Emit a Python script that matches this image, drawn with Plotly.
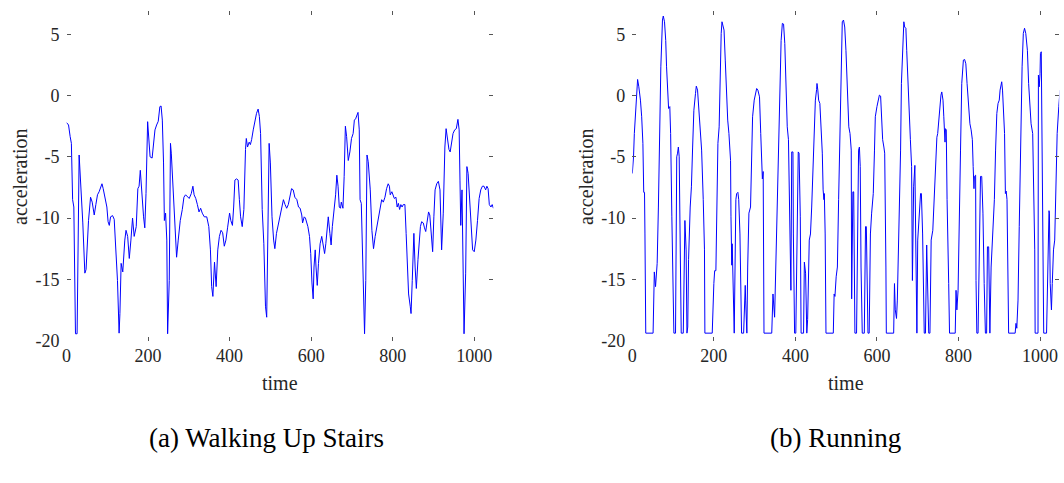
import plotly.graph_objects as go

# ---------------- data ----------------
walk_time = [0, 5, 9, 12, 15, 18, 22, 26, 31, 35, 40, 45, 48, 54, 59, 63, 68, 72, 76, 80,
             83, 87, 90, 95, 99, 102, 105, 108, 113, 117, 121, 125, 129, 131, 134, 138, 143, 146, 150, 154,
             158, 162, 166, 171, 175, 178, 181, 184, 189, 192, 195, 199, 202, 205, 210, 213, 217, 221, 225, 229,
             232, 235, 238, 240, 243, 246, 248, 252, 255, 257, 261, 266, 270, 274, 279, 284, 288, 292, 297, 301,
             306, 310, 313, 317, 321, 325, 329, 333, 338, 344, 349, 353, 356, 359, 363, 367, 371, 375, 379, 383,
             387, 391, 395, 400, 403, 407, 410, 413, 417, 421, 424, 427, 431, 435, 439, 441, 444, 448, 451, 454,
             458, 462, 466, 470, 473, 476, 480, 484, 488, 491, 493, 497, 500, 504, 508, 511, 515, 520, 524, 528,
             532, 536, 540, 544, 548, 552, 556, 560, 565, 569, 573, 577, 579, 583, 586, 589, 592, 596, 599, 602,
             605, 607, 610, 612, 615, 618, 622, 626, 629, 633, 636, 639, 642, 646, 649, 652, 656, 660, 663, 666,
             669, 672, 674, 678, 681, 684, 687, 691, 695, 699, 703, 706, 709, 713, 715, 718, 720, 723, 726, 728,
             731, 734, 737, 740, 745, 749, 753, 757, 761, 765, 769, 773, 777, 781, 785, 789, 792, 794, 798, 801,
             804, 808, 811, 814, 817, 820, 823, 826, 830, 833, 836, 839, 843, 845, 848, 852, 855, 858, 862, 865,
             868, 871, 875, 878, 881, 884, 888, 891, 894, 898, 901, 904, 908, 912, 916, 920, 924, 928, 931, 934,
             938, 941, 944, 948, 952, 956, 960, 963, 965, 967, 970, 972, 975, 979, 982, 985, 988, 992, 996, 1000,
             1004, 1008, 1012, 1016, 1020, 1024, 1028, 1031, 1034, 1037, 1041, 1044, 1047]
walk_acc = [-2.2, -2.4, -3.35, -3.9, -8.5, -9.1, -19.45, -19.45, -4.85, -6.9, -10.4, -14.5, -14.2, -10.2, -8.3, -8.7, -9.75, -8.9, -8.1, -7.85,
            -7.6, -7.2, -7.6, -8.4, -9.1, -10.3, -10.6, -9.9, -9.8, -10.1, -12.3, -15.1, -19.4, -17.8, -13.7, -14.4, -11.8, -11.0, -11.5, -13.3,
            -11.8, -10.0, -11.5, -10.7, -7.6, -7.4, -6.1, -7.7, -9.9, -10.8, -8.0, -2.13, -3.5, -5.0, -5.1, -4.2, -2.8, -2.4, -2.1, -0.9,
            -0.85, -2.0, -5.5, -10.2, -9.6, -11.8, -19.45, -15.1, -3.9, -4.7, -7.7, -11.5, -13.2, -11.8, -10.2, -9.3, -8.3, -8.1, -8.3, -8.4,
            -8.0, -7.4, -8.1, -8.4, -8.9, -9.5, -9.2, -9.6, -9.9, -9.9, -10.7, -12.6, -15.6, -16.4, -13.6, -15.6, -12.6, -11.5, -11.0, -11.2,
            -12.3, -11.8, -10.8, -9.6, -10.2, -10.6, -9.1, -6.9, -6.8, -6.9, -8.5, -9.9, -10.7, -9.3, -4.4, -3.5, -4.2, -3.8, -4.0, -3.6,
            -2.8, -2.0, -1.45, -1.1, -1.7, -3.1, -9.3, -12.1, -17.2, -18.1, -14.0, -3.9, -5.5, -9.9, -11.8, -12.5, -11.25, -10.4, -9.9, -9.2,
            -8.5, -8.9, -9.2, -8.9, -8.2, -7.6, -7.7, -8.3, -8.5, -9.1, -9.2, -9.75, -10.4, -9.9, -10.0, -10.4, -10.7, -11.5, -12.9, -15.3,
            -16.6, -14.0, -12.6, -14.0, -15.5, -13.7, -12.1, -11.5, -12.1, -12.9, -12.1, -10.7, -9.9, -11.25, -12.2, -10.7, -9.6, -8.1, -6.5, -7.4,
            -9.1, -9.2, -8.7, -9.2, -6.6, -2.5, -3.35, -5.3, -4.6, -3.5, -3.1, -2.0, -1.9, -1.45, -1.37, -2.8, -8.5, -8.8, -13.7, -17.2,
            -19.45, -15.1, -4.85, -5.4, -7.7, -11.0, -12.5, -11.5, -10.7, -9.9, -9.2, -8.5, -8.7, -8.3, -7.6, -7.2, -7.4, -8.1, -7.85, -8.1,
            -8.4, -8.3, -9.1, -8.8, -9.3, -8.9, -9.1, -8.9, -8.9, -11.25, -14.0, -16.2, -17.2, -17.8, -15.1, -11.25, -14.0, -15.75, -13.4, -11.5,
            -10.7, -10.3, -10.4, -10.8, -11.1, -10.4, -9.5, -9.75, -11.25, -12.75, -9.9, -7.7, -7.2, -7.0, -7.7, -12.6, -9.6, -4.2, -2.7, -3.6,
            -4.4, -4.6, -3.8, -3.1, -2.8, -2.7, -1.94, -2.8, -6.9, -10.6, -7.7, -13.7, -19.45, -14.5, -5.8, -6.35, -8.3, -10.7, -12.6, -12.75,
            -11.8, -10.2, -8.4, -7.7, -7.4, -7.4, -7.7, -7.4, -7.6, -8.9, -9.1, -8.9, -9.2]

run_time = [0, 3, 5, 8, 12, 13, 16, 20, 23, 26, 28, 30, 31, 33, 51, 54, 57, 61, 64, 67,
            70, 74, 76, 79, 82, 84, 88, 89, 92, 94, 97, 100, 102, 106, 109, 111, 113, 115, 117, 120,
            125, 128, 129, 132, 134, 136, 138, 142, 145, 148, 151, 155, 157, 160, 163, 166, 170, 174, 177, 178,
            196, 200, 202, 205, 208, 210, 213, 215, 218, 220, 223, 225, 228, 231, 234, 237, 241, 242, 244, 245,
            248, 250, 254, 256, 259, 261, 264, 266, 268, 273, 277, 278, 281, 283, 286, 290, 293, 295, 299, 302,
            305, 308, 312, 315, 317, 319, 321, 323, 342, 345, 349, 352, 355, 358, 362, 365, 368, 371, 374, 377,
            380, 383, 385, 387, 389, 391, 394, 395, 398, 401, 404, 407, 409, 412, 414, 420, 422, 425, 428, 430,
            434, 437, 440, 443, 447, 449, 452, 453, 455, 457, 460, 462, 466, 468, 470, 471, 473, 475, 493, 495,
            497, 500, 503, 506, 510, 513, 515, 518, 521, 524, 528, 531, 534, 537, 538, 541, 543, 546, 550, 553,
            555, 557, 559, 561, 564, 569, 572, 574, 576, 578, 581, 584, 587, 591, 594, 596, 600, 603, 606, 609,
            611, 614, 617, 619, 622, 623, 641, 643, 645, 648, 650, 653, 655, 658, 660, 664, 666, 668, 671, 673,
            677, 679, 682, 685, 687, 690, 693, 695, 698, 700, 704, 707, 709, 712, 716, 719, 722, 724, 727, 730,
            733, 737, 741, 745, 747, 749, 753, 757, 759, 762, 764, 767, 768, 770, 772, 773, 776, 778, 792, 794,
            796, 799, 802, 805, 808, 812, 815, 818, 821, 825, 828, 831, 834, 836, 838, 839, 842, 843, 845, 848,
            851, 854, 857, 860, 863, 866, 869, 871, 874, 877, 880, 884, 888, 891, 894, 897, 900, 902, 906, 908,
            911, 913, 915, 917, 919, 921, 923, 939, 941, 943, 946, 949, 952, 956, 959, 962, 965, 969, 972, 975,
            978, 982, 984, 987, 988, 995, 996, 998, 1000, 1001, 1003, 1005, 1007, 1009, 1016, 1019, 1022, 1023, 1025, 1028,
            1030, 1033, 1036, 1039, 1042, 1046, 1049]
run_acc = [-6.36, -5.0, -3.1, -1.2, 0.72, 1.32, 0.72, -0.37, -1.73, -3.9, -7.9, -7.9, -11.3, -19.4, -19.4, -14.4, -15.6, -13.7, -9.1, -3.6,
           2.35, 6.17, 6.5, 6.03, 4.5, 2.35, -0.37, -1.05, -0.9, -3.1, -9.9, -15.35, -19.4, -19.4, -5.0, -4.7, -4.2, -5.0, -12.6, -19.4,
           -19.4, -11.3, -10.2, -12.6, -19.4, -18.9, -13.4, -9.1, -7.45, -4.2, -1.2, 0.17, 0.77, 0.45, -0.9, -2.3, -4.45, -8.5, -12.6, -19.4,
           -19.4, -15.35, -14.3, -14.3, -8.5, -3.9, -2.55, 1.54, 5.08, 6.03, 5.6, 5.35, 2.9, 0.17, -2.0, -3.1, -5.3, -9.9, -13.85, -12.1,
           -15.35, -19.4, -8.5, -8.0, -7.9, -8.5, -11.3, -14.5, -19.4, -19.4, -15.5, -16.7, -19.4, -14.0, -9.6, -9.1, -5.8, -1.73, -0.37, 0.31,
           0.58, 0.45, -0.1, -3.1, -6.2, -6.8, -6.2, -19.4, -19.4, -16.2, -18.1, -14.0, -9.9, -4.7, -0.37, 4.5, 5.9, 5.84, 4.26, 1.0,
           -2.55, -3.6, -8.0, -11.3, -15.9, -4.6, -4.6, -11.3, -19.4, -19.4, -11.3, -4.6, -4.7, -9.9, -19.4, -19.4, -13.6, -14.5, -19.4, -18.3,
           -11.8, -11.3, -9.1, -5.8, -2.0, -0.37, 0.5, 0.99, 0.45, -0.37, -0.64, -2.0, -4.7, -7.7, -8.5, -8.0, -11.3, -19.4, -19.4, -16.2,
           -16.4, -14.8, -14.0, -8.5, -1.73, 2.9, 6.03, 6.17, 5.6, 3.7, 0.72, -2.55, -3.1, -4.45, -16.6, -7.86, -7.86, -19.4, -19.4, -11.3,
           -4.45, -4.2, -5.8, -14.0, -19.4, -19.4, -10.7, -10.7, -15.35, -19.4, -19.4, -11.3, -9.6, -8.0, -4.45, -1.73, -0.9, -0.37, 0.04, -0.04,
           -1.2, -3.6, -4.2, -4.7, -14.0, -19.4, -19.4, -15.35, -17.5, -18.2, -16.7, -12.9, -8.5, -4.45, 1.0, 5.6, 6.03, 5.6, 5.5, 3.7,
           0.17, -2.55, -3.6, -5.8, -15.1, -7.45, -5.7, -11.3, -19.4, -11.8, -9.5, -8.0, -8.0, -11.3, -19.4, -19.4, -12.2, -15.0, -19.4, -19.4,
           -11.8, -11.0, -7.7, -4.7, -3.4, -3.1, -1.2, 0.04, 0.3, -0.37, -1.73, -3.8, -2.7, -2.8, -8.5, -11.3, -15.35, -19.4, -19.4, -15.9,
           -17.5, -15.9, -11.3, -4.45, 1.0, 2.9, 2.95, 2.6, 1.0, -1.46, -2.3, -2.8, -3.6, -5.8, -7.6, -6.6, -6.5, -15.1, -19.4, -19.4,
           -11.3, -6.6, -6.6, -9.6, -15.35, -19.4, -19.4, -12.35, -12.35, -19.4, -14.0, -10.7, -8.5, -4.45, -1.46, -0.64, -0.37, 0.45, 1.13, 0.45,
           -1.2, -3.1, -8.0, -7.8, -8.5, -14.0, -19.4, -19.4, -18.6, -19.0, -16.7, -10.7, -3.1, 2.35, 5.08, 5.5, 5.08, 3.7, 1.0, -1.2,
           -2.3, -3.1, -7.2, -12.6, -19.4, -19.4, 1.67, 0.72, 1.8, 3.44, 3.58, -3.1, -11.3, -19.4, -19.4, -14.0, -9.4, -9.6, -15.35, -17.5,
           -15.35, -12.6, -11.8, -7.2, -3.1, -0.9, 0.45]

x_tickvals = [0, 200, 400, 600, 800, 1000]
x_ticktext = ["0", "200", "400", "600", "800", "1000"]
y_tickvals = [-20, -15, -10, -5, 0, 5]
y_ticktext = ["-20", "-15", "-10", "-5", "0", "5"]

captions = ["(a) Walking Up Stairs", "(b) Running"]
x_title = "time"
y_title = "acceleration"

# ---------------- layout helpers ----------------
W, H = 1064, 483
FONT = "Liberation Serif"
TXT = "#262626"


def px(x):
    return x / W


def py(y):
    return 1 - y / H


x_range = [0, 1047]
y_range = [-20, 6.95]

left_dom = [px(66.5), px(493.4)]
right_dom = [px(632.3), px(1059.2)]
y_dom = [py(340.5), py(10.5)]

common = dict(showline=False, zeroline=False, showgrid=False, automargin=False,
              ticks="inside", ticklen=4, tickwidth=1, tickcolor="#555555",
              mirror="ticks",
              tickfont=dict(family=FONT, size=18, color=TXT))
xcommon = dict(common, ticklabelstandoff=2)
ycommon = dict(common, ticklabelstandoff=6)

fig = go.Figure()
fig.add_trace(go.Scatter(x=walk_time, y=walk_acc, mode="lines",
                         line=dict(color="#0000ff", width=1), xaxis="x", yaxis="y",
                         showlegend=False))
fig.add_trace(go.Scatter(x=run_time, y=run_acc, mode="lines",
                         line=dict(color="#0000ff", width=1), xaxis="x2", yaxis="y2",
                         showlegend=False))

fig.update_layout(
    width=W, height=H,
    margin=dict(l=0, r=0, t=0, b=0),
    paper_bgcolor="white", plot_bgcolor="white",
    xaxis=dict(domain=left_dom, range=x_range, anchor="y",
               tickvals=x_tickvals, ticktext=x_ticktext, **xcommon),
    yaxis=dict(domain=y_dom, range=y_range, anchor="x",
               tickvals=y_tickvals, ticktext=y_ticktext, **ycommon),
    xaxis2=dict(domain=right_dom, range=x_range, anchor="y2",
                tickvals=x_tickvals, ticktext=x_ticktext, **xcommon),
    yaxis2=dict(domain=y_dom, range=y_range, anchor="x2",
                tickvals=y_tickvals, ticktext=y_ticktext, **ycommon),
)

ann = []
for cx, lx in [(280, 20), (846, 586)]:
    ann.append(dict(x=px(cx), y=py(383), xref="paper", yref="paper", text=x_title,
                    showarrow=False, xanchor="center", yanchor="middle",
                    font=dict(family=FONT, size=20, color=TXT)))
    ann.append(dict(x=px(lx), y=py(177), xref="paper", yref="paper", text=y_title,
                    showarrow=False, xanchor="center", yanchor="middle", textangle=-90,
                    font=dict(family=FONT, size=20, color=TXT)))
for cap, cap_x in zip(captions, [266, 835]):
    ann.append(dict(x=px(cap_x), y=py(438), xref="paper", yref="paper", text=cap,
                    showarrow=False, xanchor="center", yanchor="middle",
                    font=dict(family=FONT, size=27, color="black")))
fig.update_layout(annotations=ann)

fig.write_html("out.html", config={"displayModeBar": False},
               post_script="document.body.style.margin='0px';document.body.style.overflow='hidden';")
